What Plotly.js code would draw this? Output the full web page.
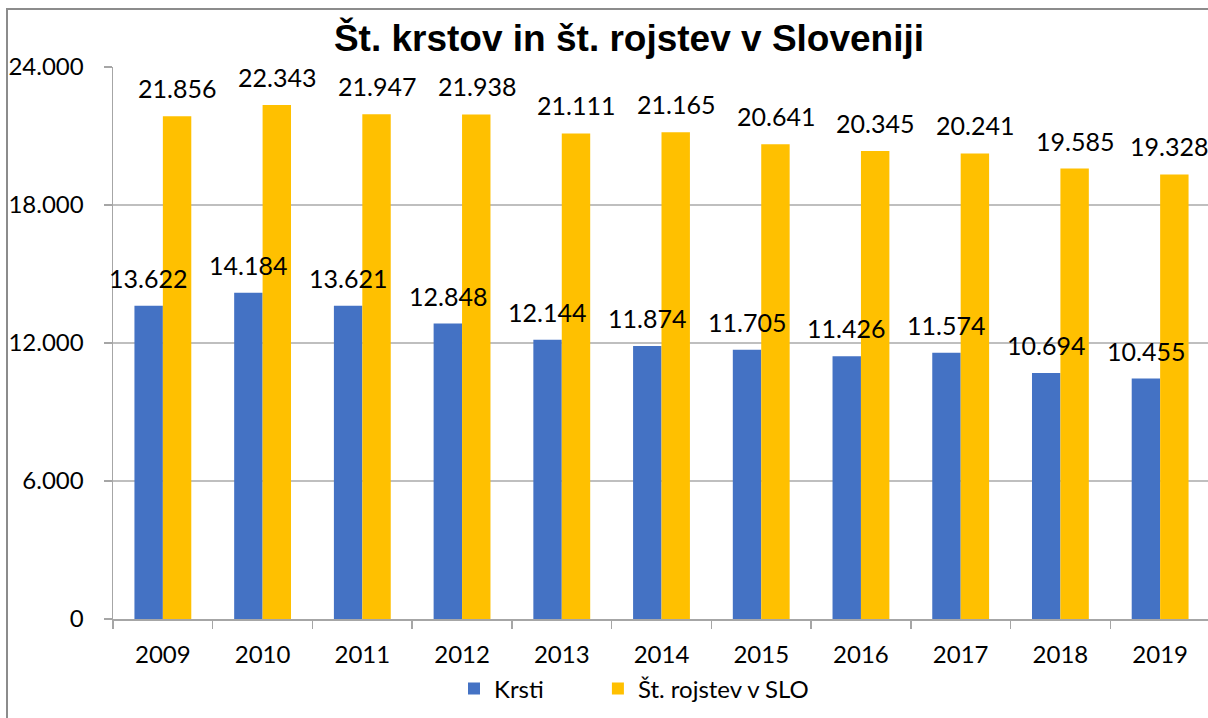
<!DOCTYPE html>
<html>
<head>
<meta charset="utf-8">
<script src="https://cdn.plot.ly/plotly-3.0.1.min.js"></script>
<style>
html,body{margin:0;padding:0;overflow:hidden;background:#fff;}
#chart{width:1210px;height:718px;}
</style>
</head>
<body>
<div id="chart"></div>
<script>
const years = ['2009','2010','2011','2012','2013','2014','2015','2016','2017','2018','2019'];
const krsti = [13622,14184,13621,12848,12144,11874,11705,11426,11574,10694,10455];
const rojstva = [21856,22343,21947,21938,21111,21165,20641,20345,20241,19585,19328];
const seriesNames = ['Krsti','Št. rojstev v SLO'];
const titleText = 'Št. krstov in št. rojstev v Sloveniji';
const yTicks = [0,6000,12000,18000,24000];

const BLUE = '#4472C4', GOLD = '#FFC000';
const FONT = 'Lato, "Open Sans", sans-serif';
const W = 1210, H = 718, L = 113, T = 67, B = 99;
const PW = W - L, PH = H - T - B;

function fmt(v){ return String(v).replace(/\B(?=(\d{3})+(?!\d))/g, '.'); }
const pad = '\u00a0'.repeat(8);

const traces = [
  {type:'bar', name:seriesNames[0] + pad, x:years, y:krsti, marker:{color:BLUE}, hoverinfo:'none'},
  {type:'bar', name:seriesNames[1], x:years, y:rojstva, marker:{color:GOLD}, hoverinfo:'none'}
];

const annotations = [];
const last = years.length - 1;
years.forEach((yr,i)=>{
  annotations.push({x:i, y:krsti[i], xref:'x', yref:'y', text:fmt(krsti[i]), showarrow:false,
    xshift:-14.5, yshift:28, yanchor:'middle', font:{family:FONT, size:25, color:'#000'}});
  const a = {x:i, y:rojstva[i], xref:'x', yref:'y', text:fmt(rojstva[i]), showarrow:false,
    xshift:14.5, yshift:28, yanchor:'middle', font:{family:FONT, size:25, color:'#000'}};
  if (i === last) { a.xanchor = 'right'; a.xshift = 14.5 + 35; }
  annotations.push(a);
});

const layout = {
  width:W, height:H,
  margin:{l:L, r:0, t:T, b:B},
  paper_bgcolor:'#fff', plot_bgcolor:'#fff',
  separators:',.',
  barmode:'group', bargap:0.43, bargroupgap:0,
  title:{text:'<b>'+titleText+'</b>', x:629/W, xref:'container', xanchor:'center',
         y:1-38/H, yref:'container', yanchor:'middle',
         font:{family:'"Liberation Sans", Arial, sans-serif', size:37, color:'#000'}},
  xaxis:{type:'category', range:[-0.5,10.5], autorange:false, showline:true, linecolor:'#A6A6A6', linewidth:1.5,
         ticks:'outside', tickson:'boundaries', ticklen:8, tickcolor:'#A6A6A6', tickwidth:1.5, ticklabelstandoff:14,
         tickfont:{family:FONT, size:24, color:'#000'}, showgrid:false, fixedrange:true},
  yaxis:{range:[0,24000], autorange:false, tickvals:yTicks, ticktext:yTicks.map(fmt), showline:true, linecolor:'#A6A6A6', linewidth:1.5,
         ticks:'outside', ticklen:8, tickcolor:'#A6A6A6', tickwidth:1.5, ticklabelstandoff:15,
         gridcolor:'#BFBFBF', gridwidth:1.5, zeroline:false,
         tickfont:{family:FONT, size:24, color:'#000'}, fixedrange:true},
  legend:{orientation:'h', x:(454-L)/PW, xanchor:'left', y:-(689-619)/PH, yanchor:'middle',
          font:{family:FONT, size:24, color:'#000'}, itemwidth:30, traceorder:'normal'},
  annotations:annotations,
  shapes:[{type:'rect', xref:'paper', yref:'paper', x0:(7-L)/PW, x1:1.02, y0:-0.25, y1:1+(T-9)/PH,
           line:{color:'#8C8C8C', width:2}, fillcolor:'rgba(0,0,0,0)', layer:'below'}]
};

Plotly.newPlot('chart', traces, layout, {displayModeBar:false, staticPlot:true});
</script>
</body>
</html>
